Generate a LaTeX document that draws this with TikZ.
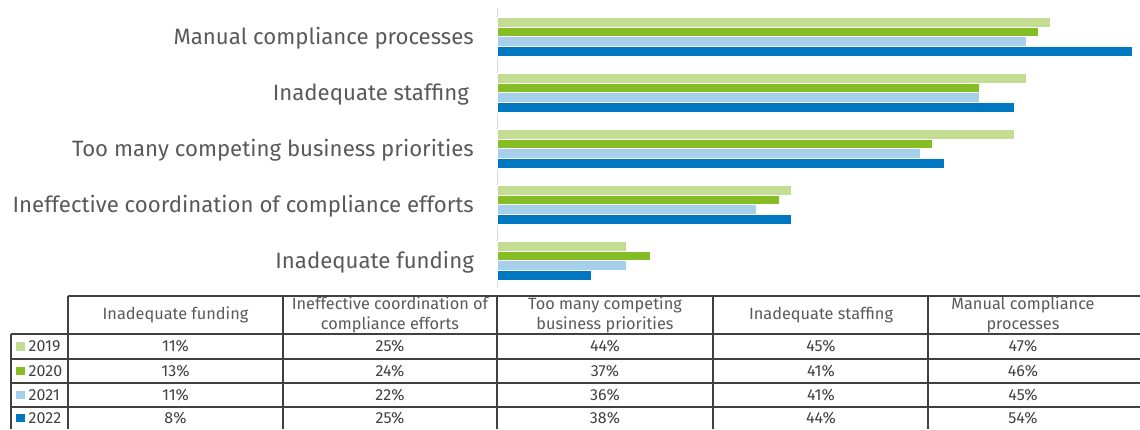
\documentclass[tikz,border=0pt]{standalone}
\usepackage{fontspec}
\setmainfont{Fira Sans}
\usepackage{tikz}

\definecolor{c2019}{HTML}{C3DE93}
\definecolor{c2020}{HTML}{84BD24}
\definecolor{c2021}{HTML}{A6D0EA}
\definecolor{c2022}{HTML}{0078C1}
\definecolor{labelgray}{HTML}{595959}
\definecolor{rulegray}{HTML}{404040}

\begin{document}
\begin{tikzpicture}[x=1pt,y=-1pt,
	catlabel/.style={anchor=east,text=labelgray,inner sep=0pt,font=\fontsize{22.2}{26}\selectfont},
	bar/.style={draw=white,line width=0.4pt},
	head/.style={text=labelgray,align=center,inner sep=0pt,font=\fontsize{16.3}{20}\selectfont},
	cell/.style={text=rulegray,inner sep=0pt,font=\fontsize{16}{18}\selectfont},
	swatch/.style={minimum size=8.5pt,inner sep=0pt},
	rule/.style={draw=rulegray,line width=1.1pt}]

	\useasboundingbox (0,0) rectangle (1140,429);

	% category labels
	\node[catlabel] (manual)   at (474, 38.5)  {Manual compliance processes};
	\node[catlabel] (staffing) at (469, 94.5)  {Inadequate staffing};
	\node[catlabel] (priority) at (474, 150.5) {Too many competing business priorities};
	\node[catlabel] (coord)    at (474, 206.5) {Ineffective coordination of compliance efforts};
	\node[catlabel] (funding)  at (474, 262)   {Inadequate funding};

	% axis
	\coordinate (axtop) at (497, 8);
	\coordinate (axbot) at (497, 288);
	\draw[black!15, line width=1pt] (axtop) -- (axbot);

	% bars, 2019 to 2022 in each group
	\foreach \g/\a/\b/\c/\d in {0/47/46/45/54, 1/45/41/41/44, 2/44/37/36/38, 3/25/24/22/25, 4/11/13/11/8}
		\foreach \v/\col [count=\k from 0] in {\a/c2019, \b/c2020, \c/c2021, \d/c2022}
			\path[bar, fill=\col] (497, 17+56*\g+9.75*\k) rectangle (497+11.76*\v, 26.75+56*\g+9.75*\k);

	% table rules
	\draw[rule] (68, 296) -- (1140, 296);
	\foreach \y in {334, 359, 383, 407}
		\draw[rule] (11, \y) -- (1140, \y);
	\draw[rule] (11, 334) -- (11, 429);
	\foreach \x in {68, 283, 497, 713, 928}
		\draw[rule] (\x, 296) -- (\x, 429);

	% table header
	\node[head] (h1) at (175.5, 315) {Inadequate funding};
	\node[head] (h2) at (390, 315)   {Ineffective coordination of\\compliance efforts};
	\node[head] (h3) at (605, 315)   {Too many competing\\business priorities};
	\node[head] (h4) at (821, 315)   {Inadequate staffing};
	\node[head] (h5) at (1023, 315)  {Manual compliance\\processes};

	% table rows
	\foreach \yr/\y/\p/\q/\r/\s/\t in {2019/346.5/11/25/44/45/47, 2020/371/13/24/37/41/46,
			2021/395/11/22/36/41/45, 2022/418/8/25/38/44/54}
	{
		\node[swatch, fill=c\yr] (s\yr) at (20.5, \y) {};
		\node[cell, anchor=west] (y\yr) at (28.5, \y) {\yr};
		\node[cell] (v\yr-1) at (175.5, \y) {\p\%};
		\node[cell] (v\yr-2) at (390, \y)   {\q\%};
		\node[cell] (v\yr-3) at (605, \y)   {\r\%};
		\node[cell] (v\yr-4) at (821, \y)   {\s\%};
		\node[cell] (v\yr-5) at (1023, \y)  {\t\%};
	}

\end{tikzpicture}
\end{document}
